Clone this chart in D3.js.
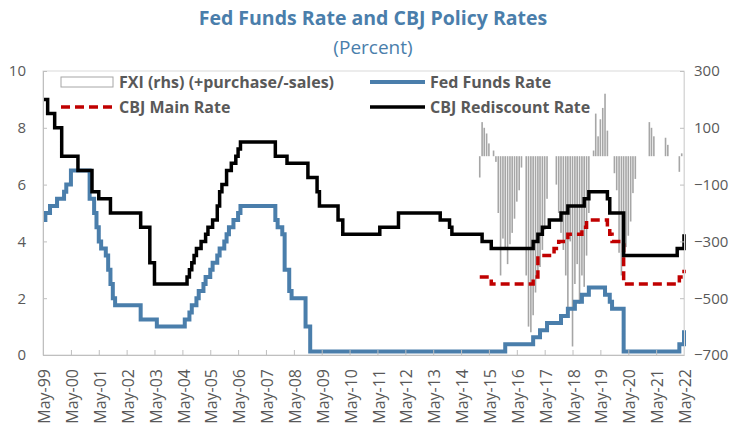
<!DOCTYPE html>
<html>
<head>
<meta charset="utf-8">
<script src="https://cdn.jsdelivr.net/npm/d3@7"></script>
<style>
    body { margin: 0; background: #fff; }
    text { font-family: "Open Sans", sans-serif; }
</style>
</head>
<body>
<div id="chart"></div>
<script>
// rate series, kept as (month of change, new level)
var fedDates = ["1999-05","1999-06","1999-08","1999-11","2000-02","2000-03","2000-05",
    "2001-01","2001-03","2001-04","2001-05","2001-06","2001-08","2001-09","2001-10","2001-11","2001-12",
    "2002-11","2003-06","2004-06","2004-08","2004-09","2004-11","2004-12",
    "2005-02","2005-03","2005-05","2005-06","2005-08","2005-09","2005-11","2005-12",
    "2006-01","2006-03","2006-05","2006-06","2007-09","2007-10","2007-12",
    "2008-01","2008-03","2008-04","2008-10","2008-12","2015-12","2016-12",
    "2017-03","2017-06","2017-12","2018-03","2018-06","2018-09","2018-12",
    "2019-07","2019-09","2019-10","2020-03","2022-03","2022-05"];
var fedRates = [4.75,5.0,5.25,5.5,5.75,6.0,6.5,
    5.5,5.0,4.5,4.0,3.75,3.5,3.0,2.5,2.0,1.75,
    1.25,1.0,1.25,1.5,1.75,2.0,2.25,
    2.5,2.75,3.0,3.25,3.5,3.75,4.0,4.25,
    4.5,4.75,5.0,5.25,4.75,4.5,4.25,
    3.0,2.25,2.0,1.0,0.125,0.375,0.625,
    0.875,1.125,1.375,1.625,1.875,2.125,2.375,
    2.125,1.875,1.625,0.125,0.375,0.875];

var rediscountDates = ["1999-05","1999-07","1999-10","2000-01","2000-08","2001-02","2001-05","2001-10",
    "2002-11","2003-03","2003-05","2004-07","2004-08","2004-09","2004-10","2004-11",
    "2005-01","2005-03","2005-04","2005-06","2005-08","2005-09","2005-10","2005-12",
    "2006-02","2006-04","2006-05","2006-06","2007-09","2008-02","2008-11","2009-03","2009-04",
    "2009-12","2010-02","2011-06","2012-02","2013-08","2013-12","2014-01","2015-02","2015-06",
    "2016-12","2017-02","2017-04","2017-07","2017-12","2018-03","2018-10","2018-12",
    "2019-08","2019-09","2020-03","2022-02","2022-05"];
var rediscountRates = [9.0,8.5,8.0,7.0,6.5,5.75,5.5,5.0,
    4.5,3.25,2.5,2.75,3.0,3.25,3.5,3.75,
    4.0,4.25,4.5,4.75,5.25,5.75,6.0,6.5,
    6.75,7.0,7.25,7.5,7.0,6.75,6.25,5.75,5.25,
    4.75,4.25,4.5,5.0,4.75,4.5,4.25,4.0,3.75,
    4.0,4.25,4.5,4.75,5.0,5.25,5.5,5.75,
    5.5,5.0,3.5,3.75,4.25];

var mainDates = ["2015-01","2015-06","2016-12","2017-02","2017-09","2017-11","2018-03","2018-09","2018-11",
    "2019-08","2019-09","2019-10","2020-03","2022-03","2022-05"];
var mainRates = [2.75,2.5,2.75,3.5,3.75,4.0,4.25,4.5,4.75,
    4.5,4.25,4.0,2.5,2.75,3.0];

// FXI, monthly from Jan-15 to May-22 (rhs)
var fxiFirst = "2015-01", fxiLast = "2022-05";
var fxiValues = [
    -75,120,100,80,45,0,20,-20,-200,-420,-290,-330,
    -380,-310,-270,-220,-160,-120,-40,0,-420,-600,-620,-560,
    -480,-430,-390,-330,-260,-150,0,0,0,-100,-200,-270,
    -330,-420,-560,-300,-670,-450,-380,-520,-420,-460,-350,-200,
    0,20,150,70,130,170,220,90,0,0,-60,-120,
    -340,-420,-380,-320,-280,-230,-130,-80,0,0,0,0,
    0,120,100,70,0,0,0,0,65,40,0,0,
    0,0,-55,10,0];

var leftTicks = [0,2,4,6,8,10];
var rightTicks = [-700,-500,-300,-100,100,300];
var tickYears = d3.range(1999, 2023);

var titleText = "Fed Funds Rate and CBJ Policy Rates";
var subtitleText = "(Percent)";

// 0. size
var svgW = 737, svgH = 431;
var plot = {left: 43, right: 684, top: 71, bottom: 355};
var grey = "#595959";

// 1. svg
var svg = d3.select("#chart").append("svg")
    .attr("width", svgW).attr("height", svgH);

var parse = d3.timeParse("%Y-%m");

var x = d3.scaleTime()
    .domain([parse("1999-05"), parse("2022-05")])
    .range([plot.left, plot.right]);
var yL = d3.scaleLinear().domain([0, 10]).range([plot.bottom, plot.top]);
var yR = d3.scaleLinear().domain([-700, 300]).range([plot.bottom, plot.top]);

// title
svg.append("text").attr("x", 373).attr("y", 25)
    .attr("text-anchor", "middle")
    .attr("font-size", 19.5).attr("font-weight", "bold")
    .attr("fill", "#4a7eab")
    .text(titleText);
svg.append("text").attr("x", 373).attr("y", 54)
    .attr("text-anchor", "middle")
    .attr("font-size", 19)
    .attr("fill", "#4a7eab")
    .text(subtitleText);

// plot border
svg.append("rect")
    .attr("x", plot.left).attr("y", plot.top)
    .attr("width", plot.right - plot.left).attr("height", plot.bottom - plot.top)
    .attr("fill", "none").attr("stroke", "#d9d9d9");

// 2. FXI bars
var fxiMonths = d3.timeMonth.range(parse(fxiFirst), d3.timeMonth.offset(parse(fxiLast), 1));
var fxi = fxiMonths.map(function (d, i) { return {date: d, value: fxiValues[i]}; });

svg.append("g").selectAll("rect")
    .data(fxi.filter(function (d) { return d.value != 0; }))
    .enter().append("rect")
    .attr("x", function (d) { return x(d.date) - 0.8; })
    .attr("width", 1.6)
    .attr("y", function (d) { return Math.min(yR(d.value), yR(0)); })
    .attr("height", function (d) { return Math.abs(yR(d.value) - yR(0)); })
    .attr("fill", "#a6a6a6");

// 3. lines
function series(dates, values) {
    return dates.map(function (d, i) { return {date: parse(d), value: values[i]}; });
}
var line = d3.line()
    .x(function (d) { return x(d.date); })
    .y(function (d) { return yL(d.value); })
    .curve(d3.curveStepAfter);

svg.append("path").datum(series(fedDates, fedRates))
    .attr("d", line).attr("fill", "none")
    .attr("stroke", "#4a7eab").attr("stroke-width", 4);

svg.append("path").datum(series(mainDates, mainRates))
    .attr("d", line).attr("fill", "none")
    .attr("stroke", "#c00000").attr("stroke-width", 3.5)
    .attr("stroke-dasharray", "9,5");

svg.append("path").datum(series(rediscountDates, rediscountRates))
    .attr("d", line).attr("fill", "none")
    .attr("stroke", "#000").attr("stroke-width", 3.5);

// 4. axes
var xAxis = d3.axisBottom(x)
    .tickValues(tickYears.map(function (y) { return new Date(y, 4, 1); }))
    .tickSize(-5)
    .tickFormat(d3.timeFormat("%b-%y"));

var gx = svg.append("g")
    .attr("transform", "translate(0," + plot.bottom + ")")
    .call(xAxis);
gx.selectAll("text")
    .attr("transform", "rotate(-90)")
    .attr("text-anchor", "end")
    .attr("x", -14).attr("y", 1)
    .attr("dy", "0.35em")
    .attr("font-size", 16).attr("fill", grey);

var gl = svg.append("g")
    .attr("transform", "translate(" + plot.left + ",0)")
    .call(d3.axisLeft(yL).tickValues(leftTicks).tickSize(-4).tickPadding(17));
gl.selectAll("text").attr("font-size", 15).attr("fill", grey);

var gr = svg.append("g")
    .attr("transform", "translate(" + plot.right + ",0)")
    .call(d3.axisRight(yR).tickValues(rightTicks).tickSize(-4).tickPadding(10));
gr.selectAll("text").attr("font-size", 15).attr("fill", grey);

svg.selectAll(".domain").attr("stroke", "#bfbfbf");
svg.selectAll(".tick line").attr("stroke", "#bfbfbf");
gr.select(".domain").attr("stroke", "#d9d9d9");

// 5. legend
var legend = svg.append("g").attr("font-size", 16).attr("font-weight", "bold").attr("fill", grey);

legend.append("rect").attr("x", 61).attr("y", 77).attr("width", 52).attr("height", 10)
    .attr("fill", "#fff").attr("stroke", "#a6a6a6");
legend.append("text").attr("x", 119).attr("y", 82).attr("dy", "0.35em")
    .text("FXI (rhs) (+purchase/-sales)");

legend.append("line").attr("x1", 370).attr("x2", 425).attr("y1", 82).attr("y2", 82)
    .attr("stroke", "#4a7eab").attr("stroke-width", 4);
legend.append("text").attr("x", 430).attr("y", 82).attr("dy", "0.35em")
    .text("Fed Funds Rate");

legend.append("line").attr("x1", 61).attr("x2", 113).attr("y1", 107).attr("y2", 107)
    .attr("stroke", "#c00000").attr("stroke-width", 3.5).attr("stroke-dasharray", "9,5");
legend.append("text").attr("x", 119).attr("y", 107).attr("dy", "0.35em")
    .text("CBJ Main Rate");

legend.append("line").attr("x1", 370).attr("x2", 425).attr("y1", 107).attr("y2", 107)
    .attr("stroke", "#000").attr("stroke-width", 3.5);
legend.append("text").attr("x", 430).attr("y", 107).attr("dy", "0.35em")
    .text("CBJ Rediscount Rate");
</script>
</body>
</html>
